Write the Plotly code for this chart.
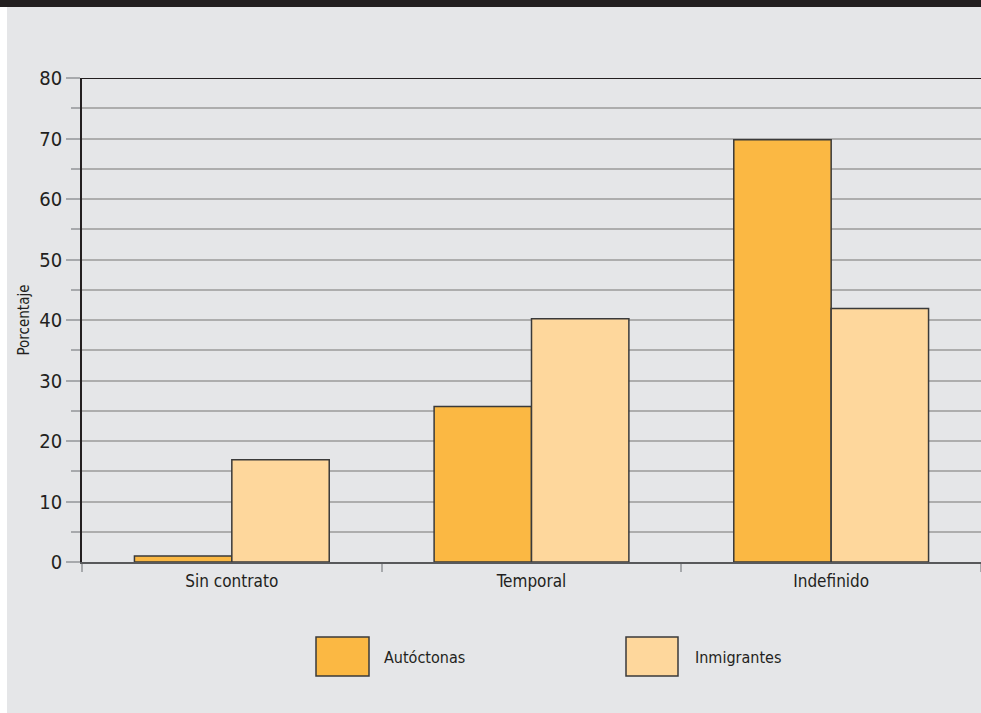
import plotly.graph_objects as go

categories = ["Sin contrato", "Temporal", "Indefinido"]
series_names = ["Autóctonas", "Inmigrantes"]
autoctonas = [1.0, 25.7, 69.8]
inmigrantes = [16.9, 40.2, 41.9]
y_ticks = [0, 10, 20, 30, 40, 50, 60, 70, 80]

colors = ["#fbb843", "#fed79c"]
outline = "#3a3a3a"
FONT = "Liberation Sans Narrow, DejaVu Sans Condensed, Arial Narrow, sans-serif"
TXT = "#231f20"

fig = go.Figure()
for name, vals, col in zip(series_names, [autoctonas, inmigrantes], colors):
    fig.add_trace(go.Bar(
        x=categories, y=vals, name=name,
        marker=dict(color=col, line=dict(color=outline, width=1.5)),
        showlegend=False,
    ))

W, H = 981, 713
ml, mr, mt, mb = 82, 0, 78, 151
pw = W - ml - mr
ph = H - mt - mb

def px(x):
    return (x - ml) / pw

def py(y):
    return (H - mb - y) / ph

shapes = [
    # white strip at left
    dict(type="rect", xref="paper", yref="paper", x0=px(0), x1=px(7), y0=py(H), y1=py(0),
         fillcolor="white", line=dict(width=0), layer="below"),
    # dark top band
    dict(type="rect", xref="paper", yref="paper", x0=px(0), x1=1, y0=py(7), y1=py(0),
         fillcolor="#231f20", line=dict(width=0), layer="below"),
    # black top line at 80
    dict(type="line", xref="paper", yref="y", x0=0, x1=1, y0=80, y1=80,
         line=dict(color="#231f20", width=2), layer="above"),
]
annotations = []
legend_boxes = [(316, 369, 382), (626, 678, 693)]
for (bx0, bx1, tx), name, col in zip(legend_boxes, series_names, colors):
    shapes.append(dict(type="rect", xref="paper", yref="paper",
                       x0=px(bx0), x1=px(bx1), y0=py(676), y1=py(637),
                       fillcolor=col, line=dict(color=outline, width=1.5)))
    annotations.append(dict(xref="paper", yref="paper", x=px(tx), y=py(657),
                            text=name, showarrow=False, xanchor="left", yanchor="middle",
                            font=dict(family=FONT, size=16, color=TXT)))

fig.update_layout(
    width=W, height=H,
    margin=dict(l=ml, r=mr, t=mt, b=mb, pad=0),
    paper_bgcolor="#e5e6e8",
    plot_bgcolor="rgba(0,0,0,0)",
    barmode="group",
    bargap=0.35,
    bargroupgap=0,
    shapes=shapes,
    annotations=annotations,
    font=dict(family=FONT, color=TXT),
)
fig.update_xaxes(
    type="category",
    showline=True, linecolor="#58595b", linewidth=2,
    ticks="outside", tickson="boundaries", ticklen=8, tickcolor="#a7a9ac", tickwidth=1.5,
    showgrid=False,
    ticklabelstandoff=3,
    tickfont=dict(family=FONT, size=17, color=TXT),
)
fig.update_yaxes(
    range=[0, 80],
    tickvals=y_ticks,
    showline=True, linecolor="#231f20", linewidth=1.5,
    ticks="outside", ticklen=14, tickcolor="#a7a9ac", tickwidth=1.5,
    showgrid=True, gridcolor="#adadad", gridwidth=1.5,
    zeroline=False,
    minor=dict(dtick=5, ticks="outside", ticklen=9, tickcolor="#a7a9ac", tickwidth=1.5,
               showgrid=True, gridcolor="#adadad", gridwidth=1.5),
    tickfont=dict(family=FONT, size=20, color=TXT),
    title=dict(text="Porcentaje", font=dict(family=FONT, size=15, color=TXT), standoff=6),
)

fig.write_html("out.html", config={"displayModeBar": False},
               post_script="document.body.style.margin='0';document.body.style.padding='0';")
